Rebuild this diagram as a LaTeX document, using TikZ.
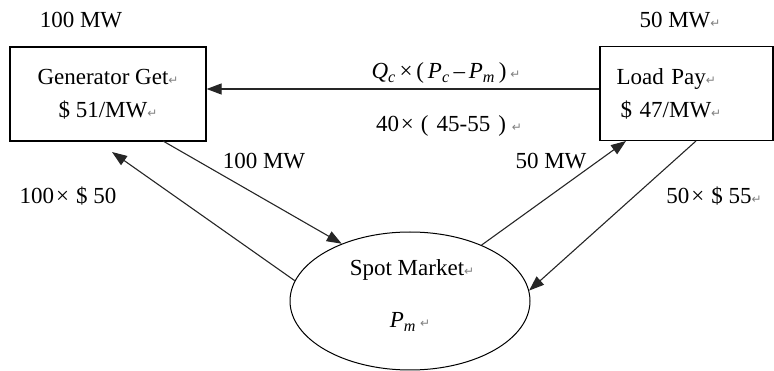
\documentclass[tikz,border=0pt]{standalone}
\usepackage{fontspec}
\setmainfont{Liberation Serif}
\newfontfamily\symf{DejaVu Sans}
\usetikzlibrary{arrows.meta,shapes.geometric}
\newcommand{\pmk}{\textcolor{gray}{\symf\fontsize{12}{12}\selectfont ↵}}
\newcommand{\tms}{\hspace{2pt}×\hspace{7pt}}
\begin{document}
\begin{tikzpicture}[x=1pt,y=-1pt,
  every node/.style={font=\fontsize{23}{33}\selectfont, inner sep=0pt},
  boxnode/.style={draw, line width=1.2pt, minimum width=196pt, minimum height=94pt},
  flow/.style={draw=black!85, line width=1.1pt, -{Triangle[length=15pt,width=11pt]}}]
\useasboundingbox (0,0) rectangle (774,371);
\node[boxnode, align=center] (gen) at (108,94) {Generator Get\pmk\\ \$ 51/MW\pmk};
\node[boxnode, minimum width=173pt, text width=140pt, align=left] (load) at (686.5,93.5) {Load Pay\pmk\\ \hspace{4pt}\$ 47/MW\pmk};
\node[draw, line width=1pt, ellipse, minimum width=240pt, minimum height=138pt] (spot) at (410,301) {};
\node (spott) at (412,270) {Spot Market\pmk};
\node (pm) at (410,322) {\textit{P}\textsubscript{\textit{m}}\hspace{4pt}\pmk};
\node (t1) at (81,20) {100 MW};
\node (t2) at (680,20) {50 MW\pmk};
\node (qc) at (446,73) {\textit{Q}\textsubscript{\textit{c}}\,×\,(\,\textit{P}\textsubscript{\textit{c}}\,–\,\textit{P}\textsubscript{\textit{m}}\,)\,\pmk};
\node (n40) at (449,126) {40\tms(\hspace{8pt}45-55\hspace{8pt})\hspace{6pt}\pmk};
\node (l1) at (264,161) {100 MW};
\node (l2) at (68,196) {100\tms\$ 50};
\node (l3) at (551,161) {50 MW};
\node (l4) at (714,196) {50\tms\$ 55\pmk};
\coordinate (a1s) at (163,141);
\coordinate (a2e) at (112,152);
\coordinate (a3e) at (626,141);
\coordinate (a4s) at (696,141);
\draw[flow] (load.west |- 0,89) -- (gen.east |- 0,89);
\draw[flow] (a1s) -- (spot.140);
\draw[flow] (spot.170) -- (a2e);
\draw[flow] (spot.38) -- (a3e);
\draw[flow] (a4s) -- (spot.5);
\end{tikzpicture}
\end{document}
